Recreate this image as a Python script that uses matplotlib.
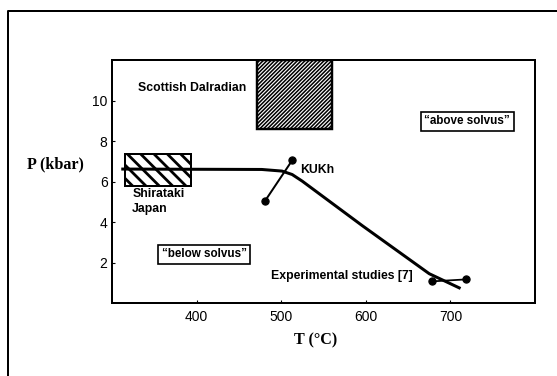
import matplotlib
matplotlib.use("Agg")
import matplotlib.pyplot as plt
from matplotlib.patches import Rectangle
from matplotlib.lines import Line2D

# solvus curve (T in degC, P in kbar)
curve_T = [311, 477, 501, 513, 525, 596, 675, 712]
curve_P = [6.62, 6.60, 6.52, 6.35, 6.02, 3.82, 1.45, 0.72]

# KUKh estimate
kukh_T = [481, 513]
kukh_P = [5.05, 7.05]

# experimental studies [7]
exp_T = [678, 719]
exp_P = [1.07, 1.17]

# field areas
shirataki_T = [316, 394]
shirataki_P = [5.8, 7.35]
dalradian_T = [471, 560]
dalradian_P = [8.6, 12.0]

x_ticks = [400, 500, 600, 700]
y_ticks = [2, 4, 6, 8, 10]

plt.rcParams["hatch.linewidth"] = 2.0

fig = plt.figure(figsize=(557 / 80, 376 / 80), dpi=80)
ax = fig.add_axes([0.201, 0.194, 0.7595, 0.646])

# outer frame of the figure (only top and left are visible)
fig.add_artist(Line2D([0.0144, 0.0144, 1.0], [0.0, 0.9707, 0.9707],
                      transform=fig.transFigure, color="black", lw=1.8))

dal = Rectangle((dalradian_T[0], dalradian_P[0]),
                dalradian_T[1] - dalradian_T[0], dalradian_P[1] - dalradian_P[0],
                fill=False, hatch="/" * 7, edgecolor="black", lw=2.2, zorder=2)
shi = Rectangle((shirataki_T[0], shirataki_P[0]),
                shirataki_T[1] - shirataki_T[0], shirataki_P[1] - shirataki_P[0],
                fill=False, hatch="\\\\", edgecolor="black", lw=1.8, zorder=2)
for p, hw in ((dal, 1.4), (shi, 2.5)):
    try:
        p.set_hatch_linewidth(hw)
    except AttributeError:
        pass
    ax.add_patch(p)

ax.plot(curve_T, curve_P, color="black", lw=2.7, solid_capstyle="butt", zorder=3)
ax.plot(kukh_T, kukh_P, color="black", lw=1.8, marker="o", ms=6.5, zorder=4)
ax.plot(exp_T, exp_P, color="black", lw=1.6, marker="o", ms=6.5, zorder=4)

bold = dict(fontfamily="Liberation Sans", fontweight="bold", fontsize=11)
ax.text(331, 10.6, "Scottish Dalradian", ha="left", va="center", **bold)
ax.text(324, 5.66, "Shirataki\nJapan", ha="left", va="top", linespacing=1.25, **bold)
ax.text(522, 6.56, "KUKh", ha="left", va="center", **bold)
ax.text(488, 1.35, "Experimental studies [7]", ha="left", va="center", **bold)
box = dict(boxstyle="square,pad=0.3", facecolor="white", edgecolor="black", lw=1.5)
ax.text(720, 8.97, "\u201cabove solvus\u201d", ha="center", va="center", bbox=box,
        fontfamily="Liberation Sans", fontweight="bold", fontsize=10.5)
ax.text(409, 2.4, "\u201cbelow solvus\u201d", ha="center", va="center", bbox=box,
        fontfamily="Liberation Sans", fontweight="bold", fontsize=10.5)

ax.set_xlim(300, 800)
ax.set_ylim(0, 12)
ax.set_xticks(x_ticks)
ax.set_yticks(y_ticks)
ax.tick_params(axis="both", direction="in", length=3, width=1,
               labelsize=12.5, labelfontfamily="Liberation Sans")
ax.tick_params(axis="x", pad=6)
ax.tick_params(axis="y", pad=4)
for s in ax.spines.values():
    s.set_linewidth(1.8)

fig.text(0.048, 0.564, "P (kbar)", ha="left", va="center",
         fontfamily="Liberation Serif", fontweight="bold", fontsize=14.5)
fig.text(0.567, 0.096, "T (\u00b0C)", ha="center", va="center",
         fontfamily="Liberation Serif", fontweight="bold", fontsize=14.5)

fig.savefig("out.png", dpi=80)
